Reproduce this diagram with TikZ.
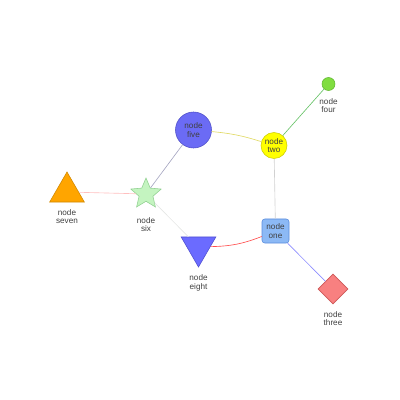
\documentclass[tikz,border=0pt]{standalone}
\usepackage{fontspec}
\setmainfont{Liberation Sans}
\usetikzlibrary{shapes.geometric,positioning}

\definecolor{oneFill}{RGB}{140,185,245}
\definecolor{oneDraw}{RGB}{90,140,220}
\definecolor{twoFill}{RGB}{255,255,0}
\definecolor{twoDraw}{RGB}{205,205,0}
\definecolor{threeFill}{RGB}{248,128,128}
\definecolor{threeDraw}{RGB}{205,88,88}
\definecolor{fourFill}{RGB}{128,221,64}
\definecolor{fourDraw}{RGB}{96,184,48}
\definecolor{fiveFill}{RGB}{107,107,245}
\definecolor{fiveDraw}{RGB}{80,80,200}
\definecolor{sixFill}{RGB}{196,244,192}
\definecolor{sixDraw}{RGB}{144,208,144}
\definecolor{sevenFill}{RGB}{255,165,0}
\definecolor{sevenDraw}{RGB}{208,136,0}
\definecolor{eightFill}{RGB}{107,107,255}
\definecolor{eightDraw}{RGB}{80,80,208}

\begin{document}
\begin{tikzpicture}[x=0.025cm, y=-0.025cm,
  every node/.style={font=\fontsize{5.8}{6}\selectfont, text=black!75, align=center, inner sep=0pt},
  lbl/.style={below=5pt of #1},
  link/.style={line width=0.45pt}]
  \useasboundingbox (0,0) rectangle (400,400);

  % nodes
  \node[draw=oneDraw, fill=oneFill, rounded corners=2pt, minimum width=0.675cm, minimum height=0.6cm] (one) at (275.5,231) {node\\one};
  \node[circle, draw=twoDraw, fill=twoFill, minimum size=0.65cm] (two) at (274,145.5) {node\\two};
  \node[diamond, draw=threeDraw, fill=threeFill, minimum width=0.75cm, minimum height=0.75cm] (three) at (333,289) {};
  \node[circle, draw=fourDraw, fill=fourFill, minimum size=0.325cm] (four) at (328.5,84) {};
  \node[circle, draw=fiveDraw, fill=fiveFill, minimum size=0.9cm] (five) at (193.5,130) {node\\five};
  \node[star, star points=5, star point ratio=2.2, draw=sixDraw, fill=sixFill, minimum size=0.8cm] (six) at (146,194) {};
  \node[regular polygon, regular polygon sides=3, draw=sevenDraw, fill=sevenFill, minimum size=1cm] (seven) at (67,192) {};
  \node[regular polygon, regular polygon sides=3, shape border rotate=180, draw=eightDraw, fill=eightFill, minimum size=1cm] (eight) at (198.5,247) {};

  % labels
  \node[lbl=three] (three-l) {node\\three};
  \node[lbl=four] (four-l) {node\\four};
  \node[below=11pt of six] (six-l) {node\\six};
  \node[lbl=seven] (seven-l) {node\\seven};
  \node[lbl=eight] (eight-l) {node\\eight};

  % links
  \draw[link, yellow!80!black!70] (five) to[bend left=6] (two);
  \draw[link, green!60!black!60] (two) -- (four);
  \draw[link, black!18] (two) -- (one);
  \draw[link, blue!30!black!35] (five) -- (six);
  \draw[link, red!25] (six) -- (seven);
  \draw[link, green!5!black!10] (six) -- (eight);
  \draw[link, red!70] (eight) to[bend right=10] (one);
  \draw[link, blue!45] (one) -- (three);
\end{tikzpicture}
\end{document}
